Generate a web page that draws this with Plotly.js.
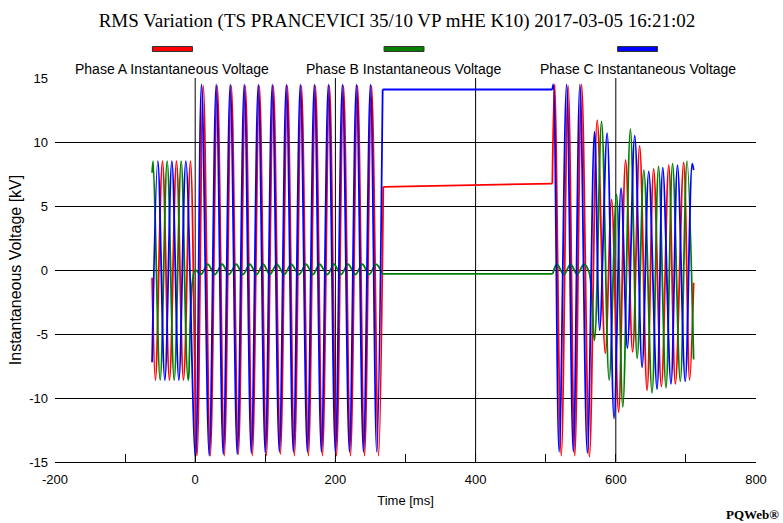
<!DOCTYPE html>
<html>
<head>
<meta charset="utf-8">
<script src="https://cdn.plot.ly/plotly-3.0.1.min.js"></script>
<style>
  html, body { margin: 0; padding: 0; background: #ffffff; }
  #chart { width: 783px; height: 523px; }
</style>
</head>
<body>
<div id="chart"></div>
<script>
// ---- Tick labels ----
const xTickVals = [-200, 0, 200, 400, 600, 800];
const xTickText = ['-200', '0', '200', '400', '600', '800'];
const xGridVals = [0, 200, 400, 600];
const yTickVals = [-15, -10, -5, 0, 5, 10, 15];
const yTickText = ['-15', '-10', '-5', '0', '5', '10', '15'];

// ---- Series names ----
const seriesNames = ['Phase A Instantaneous Voltage', 'Phase B Instantaneous Voltage', 'Phase C Instantaneous Voltage'];

// ---- Phase A (red): first recorded block (ms, kV) ----
const tA1 = [-61.5, -56.7, -46.7, -36.7, -26.7, -16.7, -6.7, 2.5, 11.5, 21.5, 31.5, 41.5, 51.5, 61.5, 71.5, 81.5, 91.5, 101.5, 111.5, 121.5, 131.5, 141.5, 151.5, 161.5, 171.5, 181.5, 191.5, 201.5, 211.5, 221.5, 231.5, 241.5, 251.5, 261.6, 268.3];
const vA1 = [-0.6, -8.6, 8.5, -8.6, 8.5, -8.6, 8.5, -14.5, 14.4, -14.5, 14.4, -14.5, 14.4, -14.4, 14.4, -14.5, 14.4, -14.5, 14.4, -14.4, 14.4, -14.5, 14.4, -14.5, 14.4, -14.5, 14.4, -14.5, 14.4, -14.5, 14.4, -14.5, 14.4, -14.5, 6.5];
// gap between recorded blocks
const tAgap = [268.3, 509.5];
const vAgap = [6.5, 6.75];
// second recorded block
const tA2 = [509.5, 512.7, 522.2, 532, 541.4, 551.2, 562.3, 573.5, 585, 594, 604, 614, 624, 634, 644.6, 654, 665, 675.5, 685, 696.8, 705.3, 711];
const vA2 = [6.75, 14.5, -14.5, 14.4, -14.5, 14.5, -14.6, 11.7, -6.5, 5.5, -11.1, 8.6, -6.4, 9.7, -9.4, 7.9, -9.1, 8.2, -8.9, 8.4, -8.6, -1.0];

// ---- Phase B (green) ----
const tB1 = [-61.5, -60, -50, -40, -30, -20, -10, 0, 8, 18, 28, 38.5, 48, 58.5, 68, 78, 87.5, 97, 106.5, 116.5, 127, 137, 148, 158, 168, 177.5, 188.5, 198, 208, 218, 228.5, 238.5, 248, 258, 267];
const vB1 = [7.6, 8.5, -8.6, 8.5, -8.6, 8.5, -8.6, 0.0, -0.35, 0.45, -0.35, 0.45, -0.35, 0.45, -0.35, 0.45, -0.35, 0.45, -0.35, 0.45, -0.35, 0.45, -0.35, 0.45, -0.35, 0.45, -0.35, 0.45, -0.35, 0.45, -0.35, 0.45, -0.35, 0.45, -0.3];
const tBgap = [267, 510];
const vBgap = [-0.3, -0.3];
const tB2 = [510, 516, 526, 535.5, 545, 554.5, 562, 569.5, 579.7, 590.5, 601, 610, 620.8, 630.5, 640, 651.7, 661, 671.6, 681, 692, 701.6, 711];
const vB2 = [-0.3, 0.45, -0.35, 0.45, -0.35, 0.45, -0.2, -5.5, 11.6, -8.6, 5.9, -10.7, 11.0, -6.9, 7.8, -9.6, 8.1, -9.2, 8.3, -8.7, 8.5, -7.0];

// ---- Phase C (blue) ----
const tC1 = [-61.5, -53.3, -43.3, -33.3, -23.3, -13.3, 0.3, 9, 20, 30, 40, 50, 60, 70, 80, 90, 100, 110, 120, 130, 140, 150, 160, 170, 180, 190, 200, 210, 220, 230, 240, 250, 259, 267.4];
const vC1 = [-7.2, 8.5, -8.6, 8.5, -8.6, 8.5, -14.6, 14.5, -14.5, 14.5, -14.4, 14.5, -14.4, 14.5, -14.3, 14.5, -14.3, 14.5, -14.2, 14.5, -14.2, 14.5, -14.2, 14.5, -14.2, 14.5, -14.2, 14.5, -14.2, 14.5, -14.2, 14.5, -14.2, 14.1];
const tCgap = [267.4, 509.5];
const vCgap = [14.1, 14.1];
const tC2 = [509.5, 510.8, 519.2, 529.8, 539.4, 548.8, 559.4, 569.6, 577, 587.6, 597.5, 607.5, 616.5, 627, 637.5, 647, 658.8, 667, 678.7, 688, 699, 709, 711];
const vC2 = [14.1, 14.5, -14.2, 14.5, -14.2, 14.5, -14.3, 10.8, -4.7, 10.7, -11.6, 6.4, -6.1, 10.5, -7.6, 7.7, -9.3, 8.0, -8.9, 8.2, -8.7, 8.3, 7.8];

const colors = ['#ff0000', '#008000', '#0000ff'];
const phases = [
  {seg1: [tA1, vA1], gap: [tAgap, vAgap], seg2: [tA2, vA2]},
  {seg1: [tB1, vB1], gap: [tBgap, vBgap], seg2: [tB2, vB2]},
  {seg1: [tC1, vC1], gap: [tCgap, vCgap], seg2: [tC2, vC2]}
];

const traces = [];
phases.forEach((p, i) => {
  const common = {type: 'scatter', mode: 'lines', name: seriesNames[i], legendgroup: 'g' + i, showlegend: false, hoverinfo: 'skip'};
  traces.push(Object.assign({}, common, {x: p.seg1[0], y: p.seg1[1], line: {color: colors[i], width: 1.8, shape: 'spline', smoothing: 1}}));
  traces.push(Object.assign({}, common, {x: p.gap[0], y: p.gap[1], line: {color: colors[i], width: 1.8, shape: 'linear'}}));
  traces.push(Object.assign({}, common, {x: p.seg2[0], y: p.seg2[1], line: {color: colors[i], width: 1.8, shape: 'spline', smoothing: 1}}));
});

// vertical grid lines only at the inner major ticks (the reference has none at -200 / 800)
const shapes = xGridVals.map(v => ({
  type: 'line', xref: 'x', yref: 'paper', x0: v, x1: v, y0: 0, y1: 1,
  line: {color: '#000000', width: 1}, layer: 'below'
}));

// legend drawn as swatch above text (as in the reference)
const legendCenters = [0.1676, 0.4979, 0.8310];
const swatchHalf = 0.0285;
legendCenters.forEach((c, i) => shapes.push({
  type: 'rect', xref: 'paper', yref: 'paper',
  x0: c - swatchHalf, x1: c + swatchHalf, y0: 1.069, y1: 1.082,
  fillcolor: colors[i], line: {color: '#333333', width: 1}
}));
const annotations = legendCenters.map((c, i) => ({
  xref: 'paper', yref: 'paper', x: c, y: 1.024, xanchor: 'center', yanchor: 'middle',
  text: seriesNames[i], showarrow: false,
  font: {family: 'Liberation Sans, Arial, sans-serif', size: 14, color: '#000000'}
}));
annotations.push({
  xref: 'paper', yref: 'paper', x: 1.035, y: -0.138, xanchor: 'right', yanchor: 'middle',
  text: '<b>PQWeb®</b>', showarrow: false,
  font: {family: 'Liberation Serif, Times New Roman, serif', size: 13, color: '#000000'}
});

const axisFont = {family: 'Liberation Sans, Arial, sans-serif', size: 13, color: '#000000'};

const layout = {
  width: 783, height: 523,
  paper_bgcolor: '#ffffff', plot_bgcolor: '#ffffff',
  margin: {l: 55, r: 27, t: 78, b: 61},
  showlegend: false,
  title: {
    text: 'RMS Variation (TS PRANCEVICI 35/10 VP mHE K10) 2017-03-05 16:21:02',
    font: {family: 'Liberation Serif, Times New Roman, serif', size: 19, color: '#000000'},
    xref: 'container', x: 0.507, xanchor: 'center',
    yref: 'container', y: 0.962, yanchor: 'middle'
  },
  xaxis: {
    range: [-200, 800], tickvals: xTickVals, ticktext: xTickText,
    showgrid: false,
    showline: true, linecolor: '#000000', linewidth: 1, mirror: false,
    zeroline: false, ticks: 'inside', ticklen: 8, tickcolor: '#000000', tickwidth: 1,
    tickfont: axisFont, ticklabelstandoff: 5,
    minor: {dtick: 100, tick0: 0, ticks: 'inside', ticklen: 8, tickcolor: '#000000', tickwidth: 1, showgrid: false},
    title: {text: 'Time [ms]', font: axisFont, standoff: 10}
  },
  yaxis: {
    range: [-15, 15], tickvals: yTickVals, ticktext: yTickText,
    showgrid: true, gridcolor: '#000000', gridwidth: 1,
    showline: false, zeroline: false, ticks: '', tickfont: axisFont, ticklabelstandoff: 6,
    title: {text: 'Instantaneous Voltage [kV]', font: {family: 'Liberation Sans, Arial, sans-serif', size: 16, color: '#000000'}, standoff: 3}
  },
  shapes: shapes,
  annotations: annotations
};

Plotly.newPlot('chart', traces, layout, {staticPlot: true, displayModeBar: false});
</script>
</body>
</html>
